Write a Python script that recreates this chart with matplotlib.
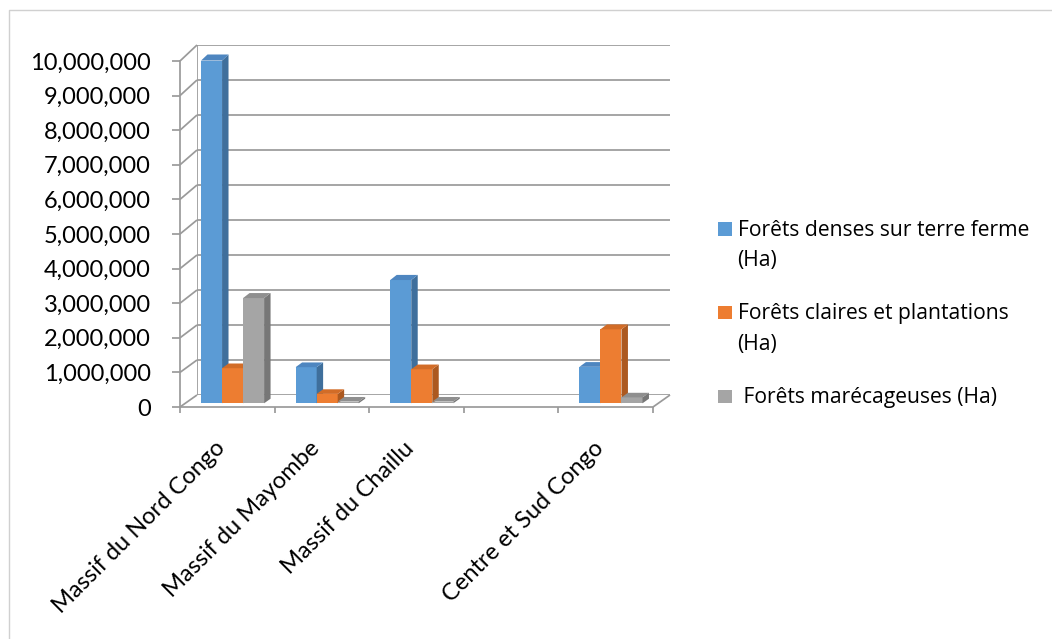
import matplotlib
matplotlib.use("Agg")
import matplotlib.pyplot as plt
import numpy as np
from matplotlib.transforms import IdentityTransform, ScaledTranslation
from matplotlib.patches import Polygon, Rectangle
from matplotlib.lines import Line2D

# ---------------- data ----------------
categories = ["Massif du Nord Congo", "Massif du Mayombe", "Massif du Chaillu", "", "Centre et Sud Congo"]
series_names = ["Forêts denses sur terre ferme\n(Ha)",
                "Forêts claires et plantations\n(Ha)",
                " Forêts marécageuses (Ha)"]
denses = [9870000, 1040000, 3550000, np.nan, 1050000]
claires = [1010000, 270000, 980000, np.nan, 2130000]
marecageuses = [3030000, 50000, 50000, np.nan, 170000]
ytick_values = list(range(0, 10000001, 1000000))

# ---------------- style ----------------
front_colors = ["#5B9BD5", "#ED7D31", "#A5A5A5"]
side_colors = ["#3F6F9C", "#AC5920", "#777777"]
top_colors = ["#4E86C0", "#D26C27", "#8F8F8F"]
grid_color = "#9a9a9a"
grid_lw = 1.25
FONT = "Lato"
LEGEND_FONT = "Open Sans"
plt.rcParams["font.family"] = [FONT, "DejaVu Sans"]

W, H = 1052, 639
fig = plt.figure(figsize=(W / 100, H / 100), dpi=100)
fig.patch.set_facecolor("white")


def px_axes(x0, y0, x1, y1):
    return fig.add_axes([x0 / W, y0 / H, (x1 - x0) / W, (y1 - y0) / H])


ncat = len(categories)
ymax = 10000000

# front plane (with real axes) and back wall plane
front_rect = (180, 232, 653, 578)
back_rect = (197, 244, 670, 594)
axF = px_axes(*front_rect)
axB = px_axes(*back_rect)
for a in (axF, axB):
    a.set_xlim(0, ncat)
    a.set_ylim(0, ymax)
    a.patch.set_visible(False)
axB.axis("off")

MF = axF.transData.get_affine().get_matrix()
MB = axB.transData.get_affine().get_matrix()


def P(x, y, d):
    v = np.array([x, y, 1.0])
    r = (1 - d) * (MF @ v) + d * (MB @ v)
    return r[:2]


def disp_line(p0, p1, z=1):
    axF.add_line(Line2D([p0[0], p1[0]], [p0[1], p1[1]], transform=IdentityTransform(),
                        color=grid_color, lw=grid_lw, zorder=z, clip_on=False,
                        solid_capstyle="butt"))


# back wall gridlines
axB.hlines(ytick_values, 0, ncat, color=grid_color, lw=grid_lw, zorder=1)
axB.vlines(0, 0, ymax, color=grid_color, lw=grid_lw, zorder=1)
# side wall diagonals
for v in ytick_values:
    disp_line(P(0, v, 0), P(0, v, 1))
# floor right edge
disp_line(P(ncat, 0, 0), P(ncat, 0, 1))

# front axes styling
for s in ("top", "right"):
    axF.spines[s].set_visible(False)
for s in ("left", "bottom"):
    axF.spines[s].set_color(grid_color)
    axF.spines[s].set_linewidth(grid_lw)
axF.set_yticks(ytick_values)
axF.set_yticklabels([f"{v:,}" for v in ytick_values])
axF.tick_params(axis="y", length=5.8, width=grid_lw, color=grid_color, pad=15,
                labelsize=17, labelcolor="#000000")
axF.set_xticks(range(ncat + 1))
axF.set_xticklabels([])
axF.tick_params(axis="x", which="major", length=4.5, width=grid_lw, color=grid_color)
axF.set_xticks([i + 0.5 for i in range(ncat)], minor=True)
axF.set_xticklabels(categories, minor=True, rotation=45, ha="right", va="baseline",
                    rotation_mode="anchor", fontsize=17, color="#000000")
axF.tick_params(axis="x", which="minor", length=0, pad=30.5)
offs = ScaledTranslation(-1.0 / 100, 0, fig.dpi_scale_trans)
for lab in axF.get_xticklabels(minor=True):
    lab.set_transform(lab.get_transform() + offs)

# ---------------- bars ----------------
d1, d2 = 0.31, 0.69
bar_rect = tuple((1 - d1) * f + d1 * b for f, b in zip(front_rect, back_rect))
axBar = px_axes(*bar_rect)
axBar.set_xlim(0, ncat)
axBar.set_ylim(0, ymax)
axBar.axis("off")

series = [denses, claires, marecageuses]
w = 1 / 4.5
centers = np.arange(ncat) + 0.5
for j, vals in enumerate(series):
    lefts = centers - 1.5 * w + j * w
    vals_arr = np.array(vals, dtype=float)
    mask = ~np.isnan(vals_arr)
    z = 3 + j
    axBar.bar(lefts[mask], vals_arr[mask], width=w, align="edge",
              color=front_colors[j], zorder=z, linewidth=0)
    for xl, v in zip(lefts[mask], vals_arr[mask]):
        xr = xl + w
        side = [P(xr, 0, d1), P(xr, 0, d2), P(xr, v, d2), P(xr, v, d1)]
        top = [P(xl, v, d1), P(xr, v, d1), P(xr, v, d2), P(xl, v, d2)]
        axBar.add_patch(Polygon(side, closed=True, transform=IdentityTransform(),
                                facecolor=side_colors[j], edgecolor="none", zorder=z,
                                clip_on=False))
        axBar.add_patch(Polygon(top, closed=True, transform=IdentityTransform(),
                                facecolor=top_colors[j], edgecolor="none", zorder=z,
                                clip_on=False))

# ---------------- legend ----------------
baselines = [235.5, 319.3, 403.3]
for k, name in enumerate(series_names):
    yb = baselines[k]
    fig.add_artist(Rectangle((718 / W, (H - yb) / H), 13.5 / W, 13.5 / H,
                             transform=fig.transFigure, facecolor=front_colors[k],
                             edgecolor="none"))
    for li, line in enumerate(name.split("\n")):
        fig.text(737.5 / W, (H - yb - li * 30.5) / H, line, fontsize=15.2,
                 family=[LEGEND_FONT, "DejaVu Sans"],
                 ha="left", va="baseline", color="#000000")

# outer chart border (top and left edges visible)
fig.add_artist(Line2D([9 / W, 9 / W, 1.0], [0, (H - 10) / H, (H - 10) / H],
                      transform=fig.transFigure, color="#d0d0d0", lw=1.0))

fig.savefig("out.png", dpi=100, facecolor="white")
